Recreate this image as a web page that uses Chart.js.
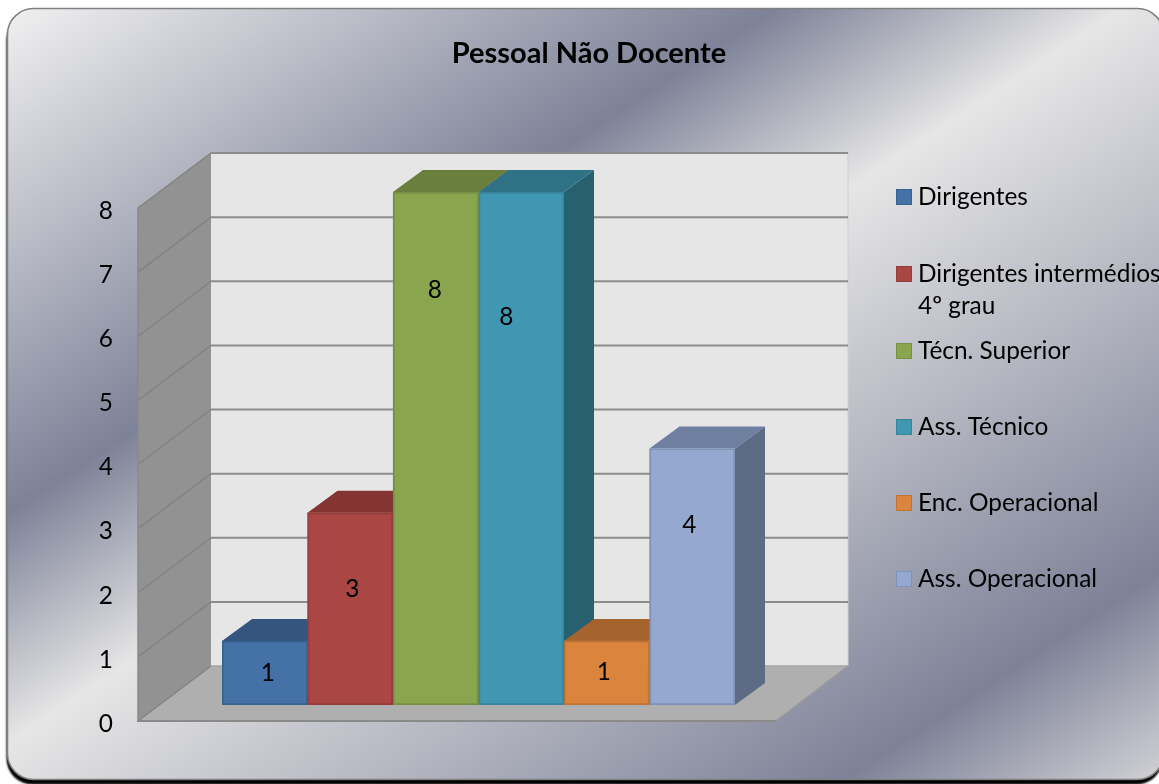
<!DOCTYPE html>
<html>
<head>
<meta charset="utf-8">
<title>Pessoal Não Docente</title>
<script src="https://cdn.jsdelivr.net/npm/chart.js@4"></script>
<style>
  html, body { margin: 0; padding: 0; background: #fff; overflow: hidden; }
  canvas { display: block; }
</style>
</head>
<body>
<canvas id="pessoalChart" width="1159" height="784"></canvas>
<script>
const categories = ["Dirigentes", "Dirigentes intermédios 4º grau", "Técn. Superior", "Ass. Técnico", "Enc. Operacional", "Ass. Operacional"];
const values = [1, 3, 8, 8, 1, 4];
const frontColors = ["#4471a6", "#aa4643", "#89a54e", "#4097b1", "#db843d", "#94a8d0"];
const edgeColors = ["#3a6291", "#953d3a", "#778f44", "#37849b", "#bf7335", "#7f92b7"];
const topColors = ["#33557e", "#843432", "#6a7f3c", "#2f7285", "#a5632e", "#6f7fa0"];
const sideColors = ["#2a4669", "#6e2b2a", "#586a32", "#27606f", "#8a5326", "#5d6b85"];
const yMax = 8;

// where the labels and legend rows sit in the original, they were moved by hand
const labelShift = [[3, 0], [2, -20], [-1, -158], [-15, -131], [-3, -1], [-3, -52]];
const legendRows = [197, 274, 351, 427, 503, 579];
const legendLines = [["Dirigentes"], ["Dirigentes intermédios", "4º grau"], ["Técn. Superior"], ["Ass. Técnico"], ["Enc. Operacional"], ["Ass. Operacional"]];

const textFont = "24.4px Lato";
const depth = { dx: 30, dy: -22 };
const back = { dx: -11, dy: -39, right: 848 };
const front = { x: 138, right: 776, dy: 16 };

function poly(ctx, pts, fill) {
  ctx.beginPath();
  pts.forEach((p, i) => (i ? ctx.lineTo(p[0], p[1]) : ctx.moveTo(p[0], p[1])));
  ctx.closePath();
  ctx.fillStyle = fill;
  ctx.fill();
}

function line(ctx, x1, y1, x2, y2, color, lw) {
  ctx.beginPath();
  ctx.moveTo(x1, y1);
  ctx.lineTo(x2, y2);
  ctx.strokeStyle = color;
  ctx.lineWidth = lw;
  ctx.stroke();
}

const backgroundPlate = {
  id: "backgroundPlate",
  afterLayout(chart) {
    // title is centred on the plate, not on the canvas
    chart.titleBlock.left = 19;
    chart.titleBlock.right = 1159;
  },
  beforeDraw(chart) {
    const ctx = chart.ctx;
    // gradient runs across the diagonal bands, stops given as distance along it
    const nx = 0.55, ny = 0.835, L = 1300;
    const g = ctx.createLinearGradient(0, 0, nx * L, ny * L);
    const stops = [[10, "#f1f1f1"], [433, "#7e8298"], [625, "#e6e6e6"], [1115, "#7e8298"], [1292, "#d2d2d6"]];
    stops.forEach((s) => g.addColorStop(s[0] / L, s[1]));
    ctx.save();
    ctx.shadowColor = "#000";
    ctx.shadowBlur = 2;
    ctx.shadowOffsetX = -1;
    ctx.shadowOffsetY = 5;
    ctx.beginPath();
    ctx.roundRect(7.5, 8.5, 1156, 771, 26);
    ctx.fillStyle = g;
    ctx.fill();
    ctx.restore();
    ctx.beginPath();
    ctx.roundRect(7.5, 8.5, 1156, 771, 26);
    ctx.strokeStyle = "#808080";
    ctx.lineWidth = 1.5;
    ctx.stroke();
  }
};

const walls3d = {
  id: "walls3d",
  beforeDatasetsDraw(chart) {
    const ctx = chart.ctx;
    const y = chart.scales.y;
    const left = chart.chartArea.left + back.dx;
    const yTop = y.getPixelForValue(yMax);
    const yZero = y.getPixelForValue(0);
    ctx.save();
    poly(ctx, [[left, yTop + back.dy], [back.right, yTop + back.dy], [back.right, yZero + back.dy], [left, yZero + back.dy]], "#e6e6e6");
    line(ctx, back.right, yTop + back.dy, back.right, yZero + back.dy, "#cfcfcf", 1);
    poly(ctx, [[front.x, yZero + front.dy], [front.right, yZero + front.dy], [back.right, yZero + back.dy], [left, yZero + back.dy]], "#afafaf");
    poly(ctx, [[front.x, yTop + front.dy], [left, yTop + back.dy], [left, yZero + back.dy], [front.x, yZero + front.dy]], "#929292");
    for (let v = 0; v <= yMax; v++) {
      const py = y.getPixelForValue(v);
      line(ctx, front.x, py + front.dy, left, py + back.dy, "#838383", 1.5);
      if (v > 0) line(ctx, left, py + back.dy, back.right, py + back.dy, "#8c8c8c", 2);
    }
    line(ctx, left, yZero + back.dy, back.right, yZero + back.dy, "#a5a5a5", 1.5);
    line(ctx, front.x, yTop + front.dy, front.x, yZero + front.dy, "#8a8a8a", 1.5);
    line(ctx, front.x - 1, yZero + front.dy, front.right, yZero + front.dy, "#8a8a8a", 2);
    line(ctx, front.right, yZero + front.dy, back.right, yZero + back.dy, "#9a9a9a", 1.5);

    // tops and sides of the bars, left to right so the next one covers the last
    values.forEach((v, i) => {
      const bar = chart.getDatasetMeta(i).data[0];
      const x0 = bar.x - bar.width / 2;
      const x1 = bar.x + bar.width / 2;
      poly(ctx, [[x1, bar.y], [x1 + depth.dx, bar.y + depth.dy], [x1 + depth.dx, yZero + depth.dy], [x1, yZero]], sideColors[i]);
      poly(ctx, [[x0, bar.y], [x1, bar.y], [x1 + depth.dx, bar.y + depth.dy], [x0 + depth.dx, bar.y + depth.dy]], topColors[i]);
    });
    ctx.restore();
  }
};

const textLayer = {
  id: "textLayer",
  afterDraw(chart) {
    const ctx = chart.ctx;
    ctx.save();
    ctx.font = textFont;
    ctx.fillStyle = "#000";
    ctx.textBaseline = "middle";
    ctx.textAlign = "center";
    values.forEach((v, i) => {
      const bar = chart.getDatasetMeta(i).data[0];
      const midY = (bar.y + bar.base) / 2;
      ctx.fillText(String(v), bar.x + labelShift[i][0], midY + labelShift[i][1]);
    });
    ctx.textAlign = "left";
    legendLines.forEach((lines, i) => {
      const row = legendRows[i];
      ctx.fillStyle = frontColors[i];
      ctx.fillRect(896, row - 8, 16, 16);
      ctx.strokeStyle = edgeColors[i];
      ctx.lineWidth = 1;
      ctx.strokeRect(896.5, row - 7.5, 15, 15);
      ctx.fillStyle = "#000";
      lines.forEach((t, k) => ctx.fillText(t, 918, row + k * 32));
    });
    ctx.restore();
  }
};

new Chart(document.getElementById("pessoalChart").getContext("2d"), {
  type: "bar",
  data: {
    labels: [""],
    datasets: categories.map((name, i) => ({
      label: name,
      data: [values[i]],
      backgroundColor: frontColors[i],
      borderColor: edgeColors[i],
      borderWidth: 2,
      borderSkipped: false,
      barPercentage: 1,
      categoryPercentage: 1
    }))
  },
  options: {
    responsive: false,
    animation: false,
    events: [],
    layout: { padding: { top: 0, left: 0, right: 424, bottom: 79 } },
    plugins: {
      legend: { display: false },
      tooltip: { enabled: false },
      title: {
        display: true,
        text: "Pessoal Não Docente",
        color: "#000",
        font: { family: "Lato", size: 29, weight: "bold", lineHeight: 1.2 },
        padding: { top: 36, bottom: 121.2 }
      }
    },
    scales: {
      x: { display: false },
      y: {
        min: 0,
        max: yMax,
        afterFit(scale) {
          // the big tick padding would otherwise squeeze the chart area
          scale.width = 222;
          scale.paddingTop = 0;
          scale.paddingBottom = 0;
        },
        grid: { display: false, drawTicks: false },
        border: { display: false },
        ticks: {
          stepSize: 1,
          color: "#000",
          padding: 109,
          labelOffset: 19,
          font: { family: "Lato", size: 24.4 }
        }
      }
    }
  },
  plugins: [backgroundPlate, walls3d, textLayer]
});
</script>
</body>
</html>
